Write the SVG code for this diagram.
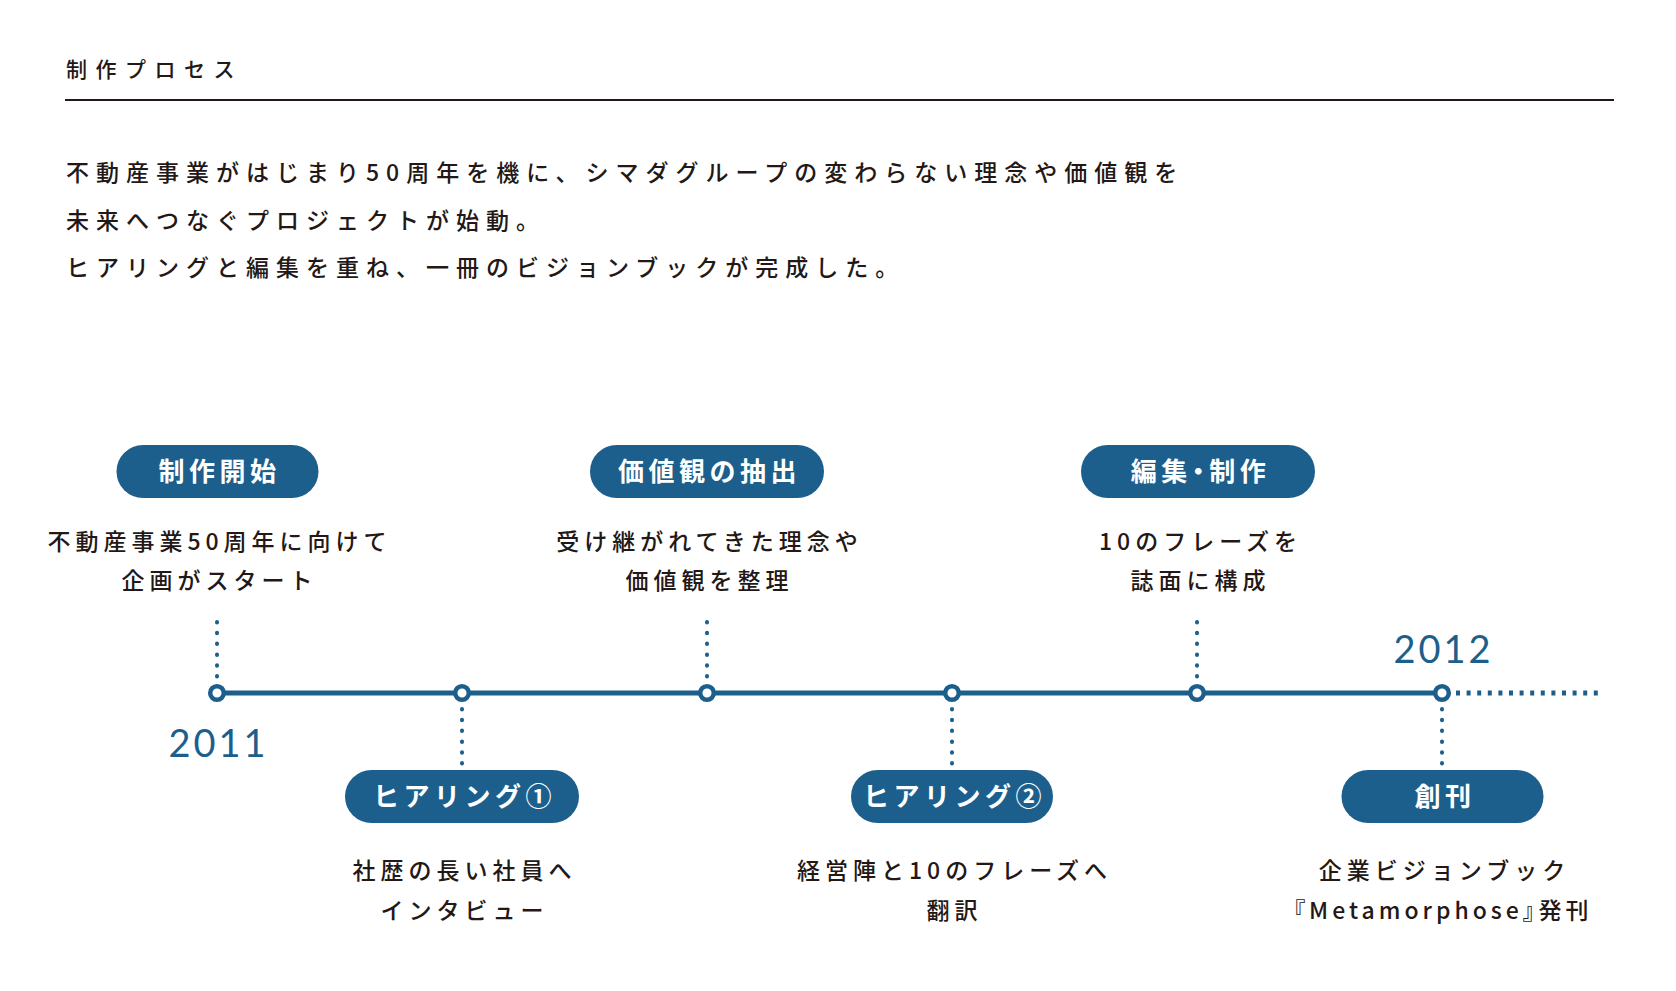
<svg xmlns="http://www.w3.org/2000/svg" width="1676" height="991" viewBox="0 0 1676 991">
<style>
.t{font-family:"Noto Sans CJK JP","Noto Sans",sans-serif;fill:#231815;font-weight:500}
.h{font-size:21px;letter-spacing:8.5px}
.b{font-size:23px;letter-spacing:7px}
.d{font-size:23px;letter-spacing:5px;text-anchor:middle}
.pill{fill:#1d5f8c}
.pt{font-family:"Noto Sans CJK JP","Noto Sans",sans-serif;font-size:26px;font-weight:700;fill:#fff;letter-spacing:4.5px;text-anchor:middle}
.yr{font-family:Lato,"Noto Sans",sans-serif;font-size:38px;fill:#1d5f8c;letter-spacing:3px;text-anchor:middle}
.dot{stroke:#1d5f8c;stroke-width:4;stroke-linecap:round;stroke-dasharray:0.5 10.3;fill:none}
.node{fill:#fff;stroke:#1d5f8c;stroke-width:4.5}
</style>
<rect width="1676" height="991" fill="#fff"/>
<g id="header">
<text class="t h" x="66" y="77">制作プロセス</text>
<line x1="65" y1="100" x2="1614" y2="100" stroke="#231815" stroke-width="2"/>
<text class="t b" x="66" y="181">不動産事業がはじまり50周年を機に、シマダグループの変わらない理念や価値観を</text>
<text class="t b" x="66" y="229">未来へつなぐプロジェクトが始動。</text>
<text class="t b" x="66" y="276">ヒアリングと編集を重ね、一冊のビジョンブックが完成した。</text>
</g>
<g id="connectors">
<line x1="217" y1="693" x2="1442" y2="693" stroke="#1d5f8c" stroke-width="5"/>
<line x1="1456" y1="693" x2="1598" y2="693" stroke="#1d5f8c" stroke-width="5" stroke-dasharray="4 6.6"/>
<line class="dot" x1="217" y1="622" x2="217" y2="677"/>
<line class="dot" x1="707" y1="622" x2="707" y2="677"/>
<line class="dot" x1="1197" y1="622" x2="1197" y2="677"/>
<line class="dot" x1="462" y1="709" x2="462" y2="764"/>
<line class="dot" x1="952" y1="709" x2="952" y2="764"/>
<line class="dot" x1="1442" y1="709" x2="1442" y2="764"/>
<circle class="node" cx="217" cy="693" r="6.8"/>
<circle class="node" cx="462" cy="693" r="6.8"/>
<circle class="node" cx="707" cy="693" r="6.8"/>
<circle class="node" cx="952" cy="693" r="6.8"/>
<circle class="node" cx="1197" cy="693" r="6.8"/>
<circle class="node" cx="1442" cy="693" r="6.8"/>
</g>
<g id="year-2011"><text class="yr" x="218.5" y="757">2011</text></g>
<g id="year-2012"><text class="yr" x="1443.5" y="663">2012</text></g>
<g id="n1">
<rect class="pill" x="116.5" y="445" width="202" height="53" rx="26.5"/>
<text class="pt" x="219.5" y="481">制作開始</text>
<text class="t d" x="219.5" y="550">不動産事業50周年に向けて</text>
<text class="t d" x="219.5" y="589">企画がスタート</text>
</g>
<g id="n2">
<rect class="pill" x="345" y="770" width="234" height="53" rx="26.5"/>
<text class="pt" x="464.5" y="806">ヒアリング①</text>
<text class="t d" x="464.5" y="879">社歴の長い社員へ</text>
<text class="t d" x="464.5" y="919">インタビュー</text>
</g>
<g id="n3">
<rect class="pill" x="590" y="445" width="234" height="53" rx="26.5"/>
<text class="pt" x="709.5" y="481">価値観の抽出</text>
<text class="t d" x="709.5" y="550">受け継がれてきた理念や</text>
<text class="t d" x="709.5" y="589">価値観を整理</text>
</g>
<g id="n4">
<rect class="pill" x="851" y="770" width="202" height="53" rx="26.5"/>
<text class="pt" x="954.5" y="806">ヒアリング②</text>
<text class="t d" x="954.5" y="879">経営陣と10のフレーズへ</text>
<text class="t d" x="954.5" y="919">翻訳</text>
</g>
<g id="n5">
<rect class="pill" x="1081" y="445" width="234" height="53" rx="26.5"/>
<text class="pt" x="1200.5" y="481" style="font-feature-settings:'palt'">編集・制作</text>
<text class="t d" x="1200.5" y="550">10のフレーズを</text>
<text class="t d" x="1200.5" y="589">誌面に構成</text>
</g>
<g id="n6">
<rect class="pill" x="1341.5" y="770" width="202" height="53" rx="26.5"/>
<text class="pt" x="1445" y="806">創刊</text>
<text class="t d" x="1444.5" y="879">企業ビジョンブック</text>
<text class="t d" x="1443" y="919" style="letter-spacing:4px;font-feature-settings:'palt'">『Metamorphose』発刊</text>
</g>
</svg>
